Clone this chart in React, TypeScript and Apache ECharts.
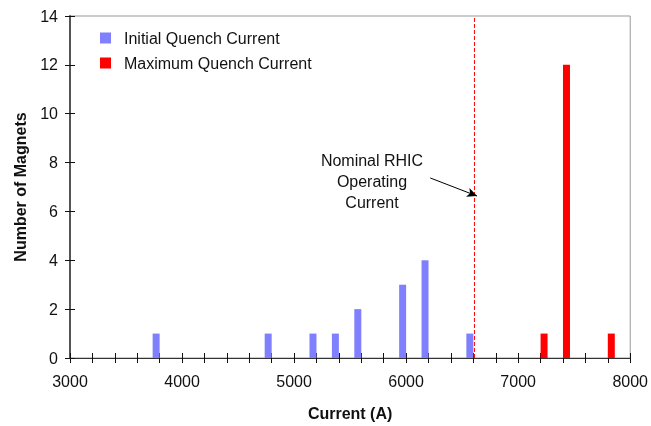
import React, { useEffect, useRef } from "react";
import * as echarts from "echarts";

const initialQuench: [number, number][] = [
  [3800, 1], [4800, 1], [5200, 1], [5400, 1], [5600, 2], [6000, 3], [6200, 4], [6600, 1],
];
const maximumQuench: [number, number][] = [
  [7200, 1], [7400, 12], [7800, 1],
];
const nominalCurrent = 6610;
const nominalLine: [number, number][] = [[nominalCurrent, 0], [nominalCurrent, 14]];
const arrowFrom: [number, number] = [6184, 7.37];
const arrowTo: [number, number] = [6602, 6.63];
const annotationLines = ["Nominal RHIC", "Operating", "Current"];

const FONT = "Liberation Sans, Arial, sans-serif";

export default function App() {
  const ref = useRef<HTMLDivElement>(null);
  useEffect(() => {
    if (!ref.current) return;
    const chart = echarts.init(ref.current, undefined, { renderer: "svg" });
    const xCommon = {
      type: "value" as const,
      min: 3000,
      max: 8000,
      interval: 200,
      splitLine: { show: false },
    };
    const yCommon = {
      type: "value" as const,
      min: 0,
      max: 14,
      interval: 2,
      splitLine: { show: false },
    };
    chart.setOption({
      animation: false,
      textStyle: { fontFamily: FONT },
      grid: {
        left: 70, right: 19, top: 16, bottom: 66,
        show: true, borderColor: "#999", borderWidth: 1,
      },
      legend: {
        orient: "vertical",
        left: 95,
        top: 24,
        itemWidth: 11,
        itemHeight: 11,
        itemGap: 7,
        icon: "rect",
        textStyle: { fontSize: 16, color: "#111", fontFamily: FONT, lineHeight: 18, padding: [0, 0, 0, 8] },
        data: ["Initial Quench Current", "Maximum Quench Current"],
      },
      xAxis: [
        {
          ...xCommon,
          axisLine: { show: true, lineStyle: { color: "#333", width: 1 } },
          axisTick: { show: true, length: 5, lineStyle: { color: "#111" } },
          axisLabel: {
            fontSize: 16, color: "#111", margin: 15, fontFamily: FONT,
            formatter: (v: number) => (v % 1000 === 0 ? String(v) : ""),
          },
          name: "Current (A)",
          nameLocation: "middle",
          nameGap: 47,
          nameTextStyle: { fontSize: 16, fontWeight: "bold", color: "#111", fontFamily: FONT },
        },
        {
          ...xCommon,
          position: "bottom",
          axisLine: { show: false },
          axisTick: { show: true, inside: true, length: 5, lineStyle: { color: "#111" } },
          axisLabel: { show: false },
        },
      ],
      yAxis: [
        {
          ...yCommon,
          axisLine: { show: true, lineStyle: { color: "#555", width: 2 } },
          axisTick: { show: true, length: 5, lineStyle: { color: "#111" } },
          axisLabel: { fontSize: 16, color: "#111", margin: 12, fontFamily: FONT },
          name: "Number of Magnets",
          nameLocation: "middle",
          nameGap: 42,
          nameTextStyle: { fontSize: 16, fontWeight: "bold", color: "#111", fontFamily: FONT },
        },
        {
          ...yCommon,
          position: "left",
          axisLine: { show: false },
          axisTick: { show: true, inside: true, length: 5, lineStyle: { color: "#111" } },
          axisLabel: { show: false },
        },
      ],
      series: [
        {
          name: "Initial Quench Current",
          type: "bar",
          xAxisIndex: 0,
          yAxisIndex: 0,
          data: initialQuench,
          barWidth: 7,
          barGap: "0%",
          itemStyle: { color: "#8080FF" },
        },
        {
          name: "Maximum Quench Current",
          type: "bar",
          xAxisIndex: 0,
          yAxisIndex: 0,
          data: maximumQuench,
          barWidth: 7,
          barGap: "0%",
          itemStyle: { color: "#FF0000" },
          markLine: {
            silent: true,
            symbol: ["none", "arrow"],
            symbolSize: [7, 10],
            label: { show: false },
            lineStyle: { color: "#000", type: "solid", width: 1 },
            data: [[
              { coord: arrowFrom, lineStyle: { color: "#000", type: "solid", width: 1 }, itemStyle: { color: "#000" } },
              { coord: arrowTo, itemStyle: { color: "#000" } },
            ]],
          },
        },
        {
          name: "Nominal RHIC Operating Current",
          type: "line",
          xAxisIndex: 0,
          yAxisIndex: 0,
          data: nominalLine,
          symbol: "none",
          silent: true,
          z: 3,
          itemStyle: { color: "#FF0000" },
          lineStyle: { color: "#FF0000", type: [4, 2], width: 1 },
        },
      ],
      graphic: [
        {
          type: "text",
          x: 372,
          y: 150,
          style: {
            text: annotationLines.join("\n"),
            font: `16px ${FONT}`,
            fill: "#111",
            align: "center",
            verticalAlign: "top",
            lineHeight: 21,
          },
        },
      ],
    });
    return () => chart.dispose();
  }, []);
  return (
    <div
      ref={ref}
      style={{ position: "fixed", left: 0, top: 0, width: 651, height: 426 }}
    />
  );
}
